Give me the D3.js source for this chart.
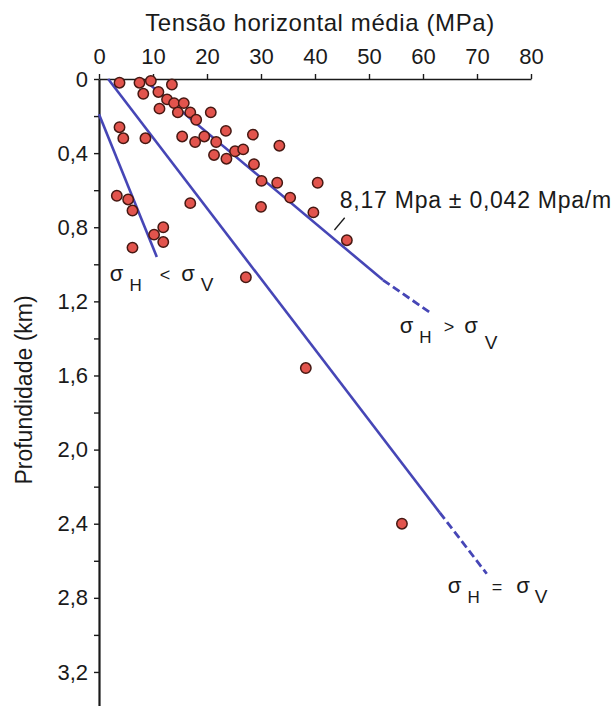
<!DOCTYPE html>
<html>
<head>
<meta charset="utf-8">
<script src="https://cdn.jsdelivr.net/npm/d3@7"></script>
<style>
  body { margin: 0; background: #fff; }
  text { font-family: "Liberation Sans", Arial, sans-serif; fill: #1a1a1a; }
</style>
</head>
<body>
<div id="container"></div>
<script>
/* DATA */
// mean horizontal stress (MPa) and depth (km) of each measurement
const stress = [3.8, 7.5, 9.6, 13.5, 8.2, 11.0, 12.6, 13.9, 15.7, 11.2, 14.6, 16.9, 18.0, 20.7,
  3.8, 4.5, 8.6, 15.4, 17.8, 19.5, 21.7, 23.5, 28.5, 21.3, 23.6, 25.2, 26.7, 33.4, 28.7,
  30.1, 33.0, 40.5, 35.4, 30.0, 39.7, 45.9, 3.3, 5.4, 6.2, 16.9, 10.2, 11.9, 11.9, 6.2,
  27.2, 38.3, 56.1]
const depth = [0.02, 0.02, 0.01, 0.03, 0.08, 0.07, 0.11, 0.13, 0.13, 0.16, 0.18, 0.18, 0.22, 0.18,
  0.26, 0.32, 0.32, 0.31, 0.34, 0.31, 0.34, 0.28, 0.30, 0.41, 0.43, 0.39, 0.38, 0.36, 0.46,
  0.55, 0.56, 0.56, 0.64, 0.69, 0.72, 0.87, 0.63, 0.65, 0.71, 0.67, 0.84, 0.80, 0.88, 0.91,
  1.07, 1.56, 2.40]

// reference lines: [stress, depth] end points, solid part then dashed part
const lineLow = { solid: [[0, 0.19], [10.7, 0.96]], dashed: [] }
const lineEqual = { solid: [[1.7, 0], [63.1, 2.34]], dashed: [[63.1, 2.34], [71.8, 2.67]] }
const lineHigh = { solid: [[9.4, 0.03], [52.6, 1.085]], dashed: [[52.6, 1.085], [61.3, 1.26]] }

const xTicks = [0, 10, 20, 30, 40, 50, 60, 70, 80]
const yTicks = d3.range(0, 3.3, 0.2).map(d => +d.toFixed(1))
const yLabels = ["0", "0,4", "0,8", "1,2", "1,6", "2,0", "2,4", "2,8", "3,2"]

/* CONSTANTS */
const width = 614,
  height = 706,
  margin = { top: 79, left: 99 }

const blue = "#4646b6"

/* SCALES */
const xScale = d3.scaleLinear()
  .domain([0, 80])
  .range([margin.left, margin.left + 432])

const yScale = d3.scaleLinear()
  .domain([0, 3.4])
  .range([margin.top, margin.top + 3.4 * 185.3])

const svg = d3.select("#container")
  .append("svg")
  .attr("width", width)
  .attr("height", height)

/* AXES */
const xAxis = d3.axisTop(xScale)
  .tickValues(xTicks)
  .tickSize(5)
  .tickSizeOuter(0)
  .tickPadding(10)

svg.append("g")
  .attr("transform", `translate(0, ${margin.top})`)
  .call(xAxis)
  .call(g => g.selectAll("text").attr("font-size", 22).attr("fill", "#1a1a1a"))
  .call(g => g.select(".domain").attr("stroke", "#1a1a1a").attr("stroke-width", 1.6))
  .call(g => g.selectAll(".tick line").attr("stroke", "#1a1a1a").attr("stroke-width", 1.4))

const yAxis = d3.axisLeft(yScale)
  .tickValues(yTicks)
  .tickSize(5)
  .tickSizeOuter(0)
  .tickPadding(6)
  .tickFormat((d, i) => i % 2 === 0 ? yLabels[i / 2] : "")

svg.append("g")
  .attr("transform", `translate(${xScale(0)}, 0)`)
  .call(yAxis)
  .call(g => g.selectAll("text").attr("font-size", 22).attr("fill", "#1a1a1a"))
  .call(g => g.select(".domain").attr("stroke", "#1a1a1a").attr("stroke-width", 2.2))
  .call(g => g.selectAll(".tick line").attr("stroke", "#1a1a1a").attr("stroke-width", 1.4))

svg.append("text")
  .attr("x", 320)
  .attr("y", 31)
  .attr("text-anchor", "middle")
  .attr("font-size", 24)
  .attr("letter-spacing", 0.6)
  .text("Tensão horizontal média (MPa)")

svg.append("text")
  .attr("transform", "translate(32, 390) rotate(-90)")
  .attr("text-anchor", "middle")
  .attr("font-size", 23)
  .text("Profundidade (km)")

/* REFERENCE LINES */
const line = d3.line()
  .x(d => xScale(d[0]))
  .y(d => yScale(d[1]))

for (const l of [lineLow, lineEqual, lineHigh]) {
  svg.append("path")
    .attr("d", line(l.solid))
    .attr("fill", "none")
    .attr("stroke", blue)
    .attr("stroke-width", 2.6)
  if (l.dashed.length) {
    svg.append("path")
      .attr("d", line(l.dashed))
      .attr("fill", "none")
      .attr("stroke", blue)
      .attr("stroke-width", 2.8)
      .attr("stroke-dasharray", "8,4")
  }
}

/* POINTS */
svg.selectAll(".dot")
  .data(stress.map((s, i) => ({ s, d: depth[i] })))
  .join("circle")
  .attr("class", "dot")
  .attr("cx", d => xScale(d.s))
  .attr("cy", d => yScale(d.d))
  .attr("r", 5.2)
  .attr("fill", "#e2544d")
  .attr("stroke", "#461812")
  .attr("stroke-width", 1.5)

/* ANNOTATIONS */
svg.append("path")
  .attr("d", line([[43.6, 0.815], [45.5, 0.749]]))
  .attr("stroke", "#1a1a1a")
  .attr("stroke-width", 1.3)

svg.append("text")
  .attr("x", xScale(44.6))
  .attr("y", yScale(0.696))
  .attr("font-size", 23)
  .attr("letter-spacing", 0.75)
  .text("8,17 Mpa ± 0,042 Mpa/m")

// sigma labels: σH <op> σV, gaps = spacing before H, op, second σ, V
function sigmaLabel(x, y, op, gaps, vDrop) {
  const t = svg.append("text")
    .attr("x", x)
    .attr("y", y)
    .attr("font-size", 22)
  t.append("tspan").text("σ")
  t.append("tspan").attr("dx", gaps[0]).attr("dy", 10).attr("font-size", 17).text("H")
  t.append("tspan").attr("dx", gaps[1]).attr("dy", -10).attr("font-size", 18).text(op)
  t.append("tspan").attr("dx", gaps[2]).text("σ")
  t.append("tspan").attr("dx", gaps[3]).attr("dy", vDrop).attr("font-size", 19).text("V")
}

sigmaLabel(xScale(2.0), yScale(1.09), "<", [6, 18, 11, 6], 10)
sigmaLabel(xScale(55.7), yScale(1.37), ">", [6, 12, 10, 7], 16)
sigmaLabel(xScale(64.6), yScale(2.775), "=", [6, 12, 14, 5], 10)
</script>
</body>
</html>
